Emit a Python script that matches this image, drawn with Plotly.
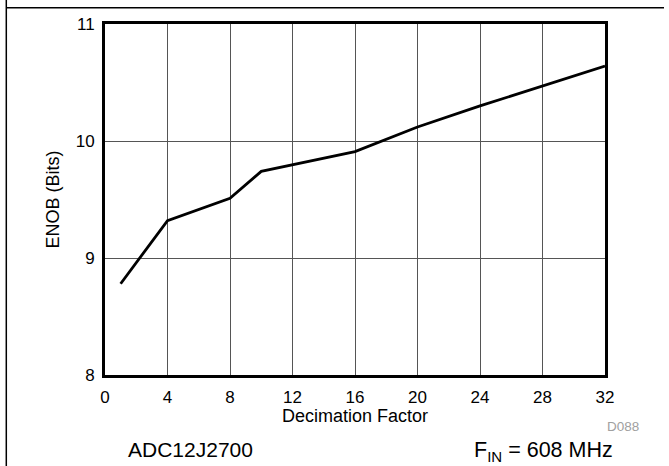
import plotly.graph_objects as go

decimation = [1, 4, 8, 10, 16, 20, 24, 28, 32]
enob = [8.78, 9.32, 9.51, 9.74, 9.91, 10.12, 10.30, 10.47, 10.64]

x_ticks = [0, 4, 8, 12, 16, 20, 24, 28, 32]
y_ticks = [8, 9, 10, 11]

W, H = 669, 466
L, R, T, B = 105, 64, 24, 91
pw, ph = W - L - R, H - T - B

def px(xp):
    return (xp - L) / pw

def py(yp):
    return (H - B - yp) / ph

fig = go.Figure()
fig.add_trace(go.Scatter(x=decimation, y=enob, mode="lines",
                         line=dict(color="black", width=2.8), showlegend=False))

font = "Liberation Sans, Arial, sans-serif"
fig.update_layout(
    width=W, height=H,
    margin=dict(l=L, r=R, t=T, b=B),
    paper_bgcolor="white", plot_bgcolor="white",
    font=dict(family=font, color="black", size=17),
    xaxis=dict(range=[0, 32], tickvals=x_ticks, showgrid=True, gridcolor="#555555", gridwidth=1,
               showline=True, linecolor="black", linewidth=3, mirror=True, ticks="",
               zeroline=False, tickfont=dict(size=17), ticklabelstandoff=5),
    yaxis=dict(range=[8, 11], tickvals=y_ticks, showgrid=True, gridcolor="#555555", gridwidth=1,
               showline=True, linecolor="black", linewidth=3, mirror=True, ticks="",
               zeroline=False, tickfont=dict(size=17), ticklabelstandoff=4,
               title=dict(text="ENOB (Bits)", font=dict(size=18), standoff=12)),
)

# page frame lines (left and top)
fig.add_shape(type="line", xref="paper", yref="paper",
              x0=px(6.3), x1=px(6.3), y0=py(0), y1=py(470),
              line=dict(color="black", width=1.5))
fig.add_shape(type="line", xref="paper", yref="paper",
              x0=px(6.3), x1=px(664), y0=py(7.7), y1=py(7.7),
              line=dict(color="black", width=1.5))

fig.add_annotation(text="Decimation Factor", xref="paper", yref="paper", x=0.5, y=py(416),
                   xanchor="center", yanchor="middle", showarrow=False,
                   font=dict(size=18))
fig.add_annotation(text="D088", xref="paper", yref="paper", x=px(641), y=py(426),
                   xanchor="right", yanchor="middle", showarrow=False,
                   font=dict(size=13.5, color="#a0a0a0"))
fig.add_annotation(text="ADC12J2700", xref="paper", yref="paper", x=px(190), y=py(450),
                   xanchor="center", yanchor="middle", showarrow=False,
                   font=dict(size=21))
fig.add_annotation(text="F<sub>IN</sub> = 608 MHz", xref="paper", yref="paper", x=px(615), y=py(451),
                   xanchor="right", yanchor="middle", showarrow=False,
                   font=dict(size=21.5))

fig.write_html("out.html", config={"displayModeBar": False},
               post_script="document.body.style.margin='0';document.body.style.overflow='hidden';")
